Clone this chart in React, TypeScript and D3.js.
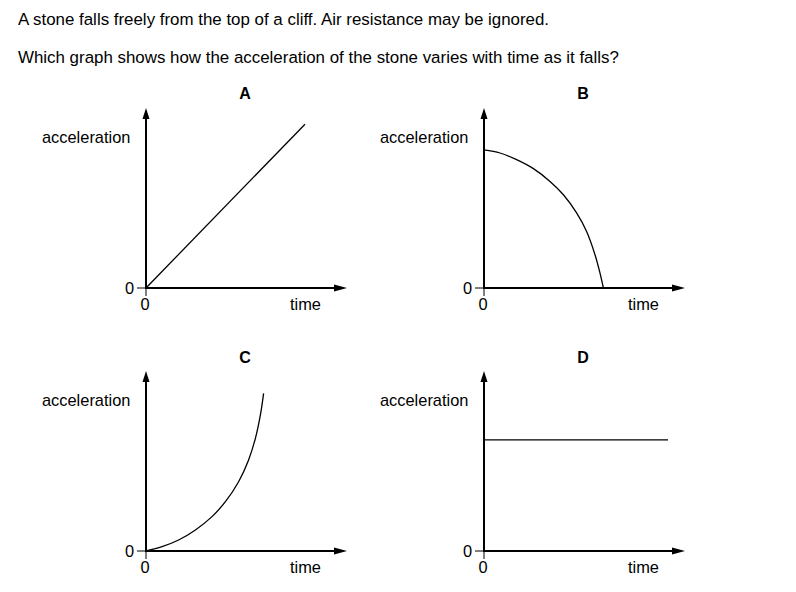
import * as d3 from "d3";

interface Pt {
  t: number;
  a: number;
}

const introLines = [
  "A stone falls freely from the top of a cliff. Air resistance may be ignored.",
  "Which graph shows how the acceleration of the stone varies with time as it falls?",
];

const panelLabels = ["A", "B", "C", "D"];

// values (time 0..10, acceleration 0..10)
const curveA: Pt[] = [
  { t: 0, a: 0 },
  { t: 7.95, a: 9.1 },
];

const curveB: Pt[] = [
  { t: 0, a: 7.67 },
  { t: 0.8, a: 7.5 },
  { t: 1.63, a: 7.13 },
  { t: 2.47, a: 6.63 },
  { t: 3.3, a: 5.92 },
  { t: 3.97, a: 5.18 },
  { t: 4.63, a: 4.17 },
  { t: 5.13, a: 3.14 },
  { t: 5.55, a: 1.85 },
  { t: 5.8, a: 0.83 },
  { t: 5.97, a: 0 },
];

const curveC: Pt[] = [
  { t: 0, a: 0 },
  { t: 0.8, a: 0.24 },
  { t: 1.63, a: 0.61 },
  { t: 2.47, a: 1.17 },
  { t: 3.3, a: 1.91 },
  { t: 3.97, a: 2.74 },
  { t: 4.63, a: 3.85 },
  { t: 5.13, a: 5.06 },
  { t: 5.47, a: 6.26 },
  { t: 5.72, a: 7.56 },
  { t: 5.88, a: 8.76 },
];

const curveD: Pt[] = [
  { t: 0, a: 6.17 },
  { t: 9.2, a: 6.17 },
];

const curves = [curveA, curveB, curveC, curveD];

const FONT = "'Liberation Sans', Arial, sans-serif";

// origin of each small graph (where the axes cross)
const origins = [
  { x: 146, y: 288 },
  { x: 484, y: 288 },
  { x: 146, y: 551 },
  { x: 484, y: 551 },
];

const xScale = d3.scaleLinear().domain([0, 10]).range([0, 200]);
const yScale = d3.scaleLinear().domain([0, 10]).range([0, -180]);

const line = d3
  .line<Pt>()
  .x((d) => xScale(d.t))
  .y((d) => yScale(d.a))
  .curve(d3.curveCatmullRom.alpha(0.5));

const Graph = ({ idx }: { idx: number }) => {
  const o = origins[idx];
  const xEnd = xScale(10) + 1;
  const yEnd = yScale(10);
  return (
    <g transform={`translate(${o.x},${o.y})`}>
      {/* label */}
      <text
        x={99}
        y={idx < 2 ? -189 : -188}
        textAnchor="middle"
        fontSize={16}
        fontWeight="bold"
        fontFamily={FONT}
      >
        {panelLabels[idx]}
      </text>
      <text x={-104} y={-145} fontSize={16.4} fontFamily={FONT}>
        acceleration
      </text>
      <text x={144} y={22} fontSize={16.4} fontFamily={FONT}>
        time
      </text>
      {/* zero ticks */}
      <line x1={-9} x2={0} y1={0} y2={0} stroke="#000" strokeWidth={1} />
      <line x1={0} x2={0} y1={0} y2={8} stroke="#000" strokeWidth={1} />
      <text x={-12} y={5.5} textAnchor="end" fontSize={16.4} fontFamily={FONT}>
        0
      </text>
      <text x={-1} y={22} textAnchor="middle" fontSize={16.4} fontFamily={FONT}>
        0
      </text>
      {/* axes */}
      <line x1={0} x2={0} y1={0.8} y2={yEnd + 8} stroke="#000" strokeWidth={2} />
      <line x1={-1} x2={xEnd - 10} y1={0} y2={0} stroke="#000" strokeWidth={2} />
      <path d={`M0,${yEnd} L-3.5,${yEnd + 11} L3.5,${yEnd + 11} Z`} fill="#000" />
      <path d={`M${xEnd},0 L${xEnd - 13},-3.5 L${xEnd - 13},3.5 Z`} fill="#000" />
      {/* curve */}
      <path d={line(curves[idx]) ?? ""} fill="none" stroke="#000" strokeWidth={1.3} />
    </g>
  );
};

const App = () => {
  return (
    <div style={{ position: "absolute", left: 0, top: 0 }}>
      <svg width={796} height={592} style={{ display: "block", background: "#fff" }}>
        <text x={18} y={25} fontSize={16.9} fontFamily={FONT} fill="#000">
          {introLines[0]}
        </text>
        <text x={18} y={63} fontSize={16.9} fontFamily={FONT} fill="#000">
          {introLines[1]}
        </text>
        {panelLabels.map((_, i) => (
          <Graph key={i} idx={i} />
        ))}
      </svg>
    </div>
  );
};

export default App;
